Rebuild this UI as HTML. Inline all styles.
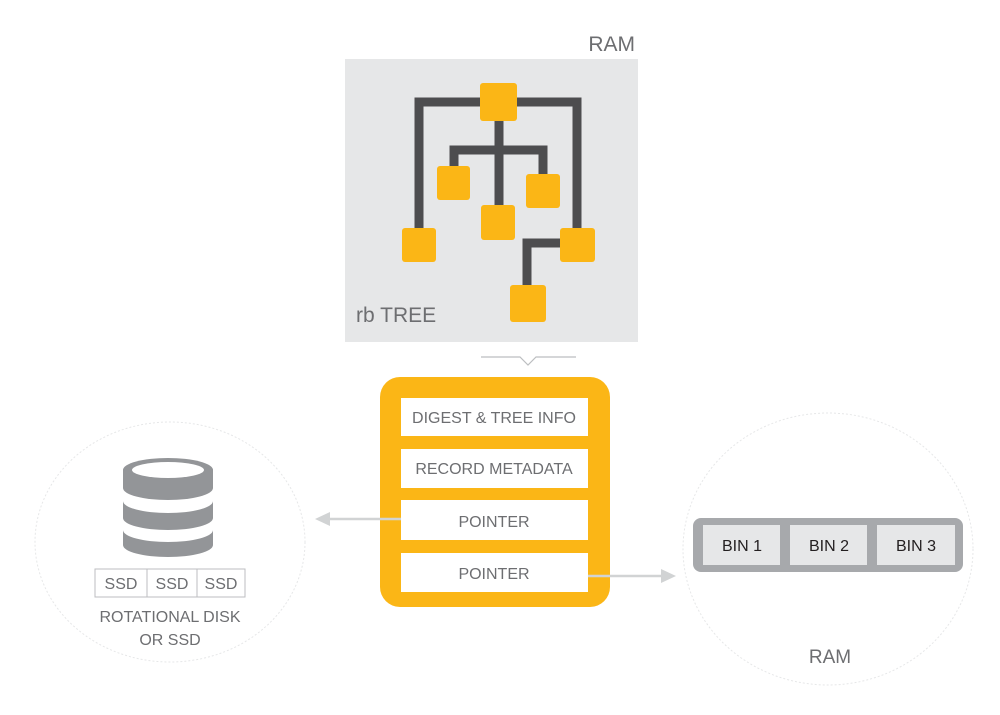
<!DOCTYPE html>
<html><head><style>
body{margin:0;background:#fff;}
svg{display:block;font-family:"Liberation Sans",sans-serif;}
</style></head><body>
<svg width="1000" height="715" viewBox="0 0 1000 715">
<rect width="1000" height="715" fill="#fff"/>
<!-- RAM tree panel -->
<text x="635" y="51" font-size="21" fill="#6d6e71" text-anchor="end">RAM</text>
<rect x="345" y="59" width="293" height="283" fill="#e6e7e8"/>
<g fill="none" stroke="#4d4d4f" stroke-width="9">
<polyline points="419,228 419,102 577,102 577,228"/>
<line x1="499" y1="110" x2="499" y2="206"/>
<polyline points="454,167 454,150 543,150 543,175"/>
<polyline points="527,286 527,243 562,243"/>
</g>
<g fill="#fbb616">
<rect x="480" y="83" width="37" height="38" rx="3"/>
<rect x="402" y="228" width="34" height="34" rx="3"/>
<rect x="560" y="228" width="35" height="34" rx="3"/>
<rect x="437" y="166" width="33" height="34" rx="3"/>
<rect x="481" y="205" width="34" height="35" rx="3"/>
<rect x="526" y="174" width="34" height="34" rx="3"/>
<rect x="510" y="285" width="36" height="37" rx="3"/>
</g>
<text x="356" y="322" font-size="21" fill="#6d6e71">rb TREE</text>
<polyline points="481,357 520,357 528,365 536,357 576,357" fill="none" stroke="#bcbec0" stroke-width="1.2"/>
<!-- center box -->
<rect x="380" y="377" width="230" height="230" rx="20" fill="#fbb616"/>
<g fill="#fff">
<rect x="401" y="398" width="187" height="38"/>
<rect x="401" y="449" width="187" height="39"/>
<rect x="401" y="500" width="187" height="40"/>
<rect x="401" y="553" width="187" height="39"/>
</g>
<g font-size="16" fill="#6d6e71" text-anchor="middle">
<text x="494" y="423">DIGEST &amp; TREE INFO</text>
<text x="494" y="474">RECORD METADATA</text>
<text x="494" y="527">POINTER</text>
<text x="494" y="579">POINTER</text>
</g>
<!-- arrows -->
<line x1="401" y1="519" x2="328" y2="519" stroke="#d1d3d4" stroke-width="2.5"/>
<polygon points="315,519 330,512 330,526" fill="#d1d3d4"/>
<line x1="588" y1="576" x2="662" y2="576" stroke="#d1d3d4" stroke-width="2.5"/>
<polygon points="676,576 661,569 661,583" fill="#d1d3d4"/>
<!-- left circle -->
<ellipse cx="170" cy="542" rx="135" ry="120" fill="none" stroke="#e6e7e8" stroke-dasharray="2,2"/>
<g fill="#939598">
<path d="M123,470 a45,12 0 0 1 90,0 v18 a45,12 0 0 1 -90,0 z"/>
<path d="M123,501 a45,12 0 0 0 90,0 v17 a45,12 0 0 1 -90,0 z"/>
<path d="M123,530 a45,12 0 0 0 90,0 v15 a45,12 0 0 1 -90,0 z"/>
</g>
<ellipse cx="168" cy="470" rx="36" ry="8" fill="#fff"/>
<g fill="none" stroke="#bcbec0" stroke-width="1">
<rect x="95" y="569" width="150" height="28"/>
<line x1="147" y1="569" x2="147" y2="597"/>
<line x1="197" y1="569" x2="197" y2="597"/>
</g>
<g font-size="16" fill="#6d6e71" text-anchor="middle">
<text x="121" y="589">SSD</text>
<text x="172" y="589">SSD</text>
<text x="221" y="589">SSD</text>
<text x="170" y="622">ROTATIONAL DISK</text>
<text x="170" y="645">OR SSD</text>
</g>
<!-- right circle -->
<ellipse cx="828" cy="549" rx="145" ry="136" fill="none" stroke="#e6e7e8" stroke-dasharray="2,2"/>
<rect x="693" y="518" width="270" height="54" rx="8" fill="#a7a9ac"/>
<g fill="#e6e7e8">
<rect x="703" y="525" width="77" height="40"/>
<rect x="790" y="525" width="77" height="40"/>
<rect x="877" y="525" width="78" height="40"/>
</g>
<g font-size="16" fill="#231f20" text-anchor="middle">
<text x="742" y="551">BIN 1</text>
<text x="829" y="551">BIN 2</text>
<text x="916" y="551">BIN 3</text>
</g>
<text x="830" y="663" font-size="19" fill="#6d6e71" text-anchor="middle">RAM</text>
</svg>
</body></html>
